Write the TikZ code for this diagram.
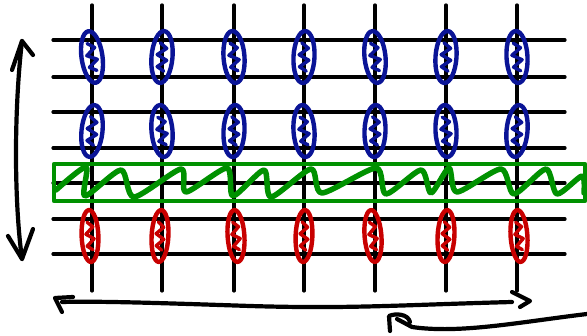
\documentclass[tikz,border=0pt]{standalone}
\begin{document}
\begin{tikzpicture}[x=1pt,y=-1pt,line cap=round,line join=round,
  gridline/.style={black,line width=3.2pt},
  pen/.style={black,line width=4.2pt},
  band/.style={draw=bandgreen,line width=4.5pt},
  wave/.style={draw=bandgreen,line width=5.5pt},
  cellmark/.pic={
    \draw[line width=4.4pt] (0,0) ellipse (10.5 and 26);
    \draw[line width=3.4pt] (-3,-14) -- (4,-9) -- (-5,-2) -- (5,3) -- (-4,10) -- (3,14);
  }]
\definecolor{cellblue}{RGB}{10,20,150}
\definecolor{cellred}{RGB}{200,0,0}
\definecolor{bandgreen}{RGB}{0,145,0}
\useasboundingbox (0,0) rectangle (587,336);

% grid: vertical wires
\foreach \x [count=\i] in {92,162,234,304,375,446,517}
  \draw[gridline] (\x,5) coordinate (top\i) -- (\x,291) coordinate (bot\i);
% grid: horizontal wires
\foreach \y in {40,77,112,148,183,219,254}
  \draw[gridline] (53,\y) -- (565,\y);

% marked cells, two blue rows and one red row
\foreach \x/\r in {92/8,162/-5,234/4,304/-3,375/6,446/-4,517/3}{
  \pic[draw=cellblue,rotate=\r] at (\x,57) {cellmark};
}
\foreach \x/\r in {92/-6,162/5,234/-3,304/4,375/-2,446/3,517/-5}{
  \pic[draw=cellblue,rotate=\r] at (\x,131) {cellmark};
}
\foreach \x/\r in {90/3,160/-4,236/5,304/-3,373/6,446/-4,519/5}{
  \pic[draw=cellred,xscale=0.8,rotate=\r] at (\x,236) {cellmark};
}

% green band with sawtooth
\draw[band] (54,164) rectangle (585,201);
\draw[wave] plot[smooth,tension=0.45] coordinates {(56,190) (86,167) (85,196) (121,170) (134,197)
  (181,169) (186,192) (227,168) (233,196) (264,170)
  (271,197) (311,169) (322,193) (376,168) (386,194)
  (421,170) (431,193) (449,168) (457,192) (501,169)
  (514,194) (546,169) (557,194) (582,176) (584,193)};

% left double arrow
\coordinate (vt) at (22,41);
\coordinate (vb) at (22,259);
\draw[pen] (vt) .. controls (14,110) and (14,200) .. (vb);
\draw[pen] (12,70) -- (vt) -- (33,55);
\draw[pen] (8,236) -- (vb) -- (33,229);

% bottom arrow to the left
\coordinate (hl) at (55,298);
\coordinate (hr) at (512,302);
\draw[pen] (hr) .. controls (400,305) and (350,309) .. (250,306)
  .. controls (160,303) and (100,301) .. (62,302);
\draw[pen] (73,297) -- (hl) -- (62,312);
\draw[pen] (512,292) -- (530,301) -- (520,307);

% lower right return arrow
\coordinate (rt) at (389,316);
\draw[pen] (587,314) .. controls (520,322) and (460,334) .. (412,327) -- (397,319);
\draw[pen] (390,331) -- (rt) .. controls (396,313) and (408,314) .. (410,322);
\end{tikzpicture}
\end{document}
